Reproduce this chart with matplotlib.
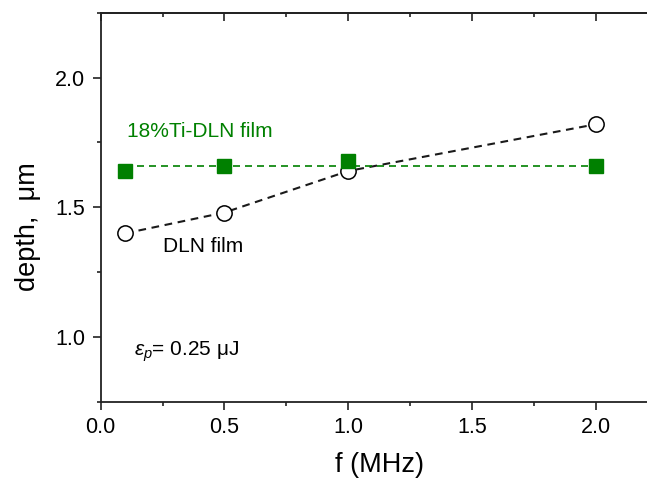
import matplotlib
matplotlib.use("Agg")
import matplotlib.pyplot as plt
from matplotlib.ticker import MultipleLocator, NullFormatter
import numpy as np

plt.rcParams['font.family'] = ['Liberation Sans', 'DejaVu Sans']
plt.rcParams['mathtext.fontset'] = 'custom'
plt.rcParams['mathtext.it'] = 'Liberation Sans:italic'
plt.rcParams['mathtext.rm'] = 'Liberation Sans'

freq = [0.1, 0.5, 1.0, 2.0]
depth_dln = [1.40, 1.48, 1.64, 1.82]
depth_ti = [1.64, 1.66, 1.68, 1.66]
x_ticks = [0.0, 0.5, 1.0, 1.5, 2.0]
y_ticks = [1.0, 1.5, 2.0]

green = '#008000'
axcol = '#222222'

fig = plt.figure(figsize=(6.47, 4.82), dpi=100)
ax = fig.add_axes([0.1556, 0.166, 0.861, 0.8077])

ax.plot(freq, depth_dln, linestyle='-', color='#1a1a1a', lw=1.5, dashes=(3.7, 2.7), zorder=2)
ax.plot(freq, depth_dln, linestyle='none', marker='o', markersize=11,
        markerfacecolor='white', markeredgecolor='black', markeredgewidth=1.1, zorder=3)
mean_ti = float(np.mean(depth_ti))
ax.plot([freq[0], freq[-1]], [mean_ti, mean_ti], linestyle='-', dashes=(4.2, 3.0),
        color=green, lw=1.2, zorder=2)
ax.plot(freq, depth_ti, linestyle='none', marker='s', markersize=10,
        color=green, zorder=4)

ax.set_xlim(0, 2.25)
ax.set_ylim(0.75, 2.25)
ax.set_xticks(x_ticks)
ax.set_yticks(y_ticks)
ax.set_xticklabels([f'{v:.1f}' for v in x_ticks])
ax.set_yticklabels([f'{v:.1f}' for v in y_ticks])
ax.xaxis.set_minor_locator(MultipleLocator(0.25))
ax.yaxis.set_minor_locator(MultipleLocator(0.25))

ax.tick_params(axis='both', which='major', direction='out', length=6, width=1.2,
               labelsize=15.5, colors=axcol, labelcolor='black')
ax.tick_params(axis='both', which='minor', direction='out', length=3, width=1.2, colors=axcol)
ax.tick_params(axis='x', which='major', pad=5)
ax.tick_params(axis='y', which='major', pad=5)
for side in ['left', 'bottom', 'top', 'right']:
    ax.spines[side].set_linewidth(1.3)
    ax.spines[side].set_color(axcol)

sec = ax.secondary_xaxis('top')
sec.set_xticks(x_ticks)
sec.xaxis.set_minor_locator(MultipleLocator(0.25))
sec.xaxis.set_major_formatter(NullFormatter())
sec.tick_params(axis='x', which='major', direction='in', length=6, width=1.2, colors=axcol)
sec.tick_params(axis='x', which='minor', direction='in', length=3, width=1.2, colors=axcol)
sec.spines['top'].set_linewidth(1.3)
sec.spines['top'].set_color(axcol)

ax.set_xlabel('f (MHz)', fontsize=19.5, labelpad=10)
ax.set_ylabel('depth,  μm', fontsize=19.5)
ax.yaxis.set_label_coords(-0.107, 0.45)

ax.text(0.106, 1.772, '18%Ti-DLN film', color=green, fontsize=15, va='baseline', ha='left')
ax.text(0.252, 1.327, 'DLN film', color='black', fontsize=15, va='baseline', ha='left')
ax.text(0.134, 0.930, r'$\varepsilon_p$= 0.25 μJ', color='black', fontsize=15, va='baseline', ha='left')

fig.savefig('out.png', dpi=100)
